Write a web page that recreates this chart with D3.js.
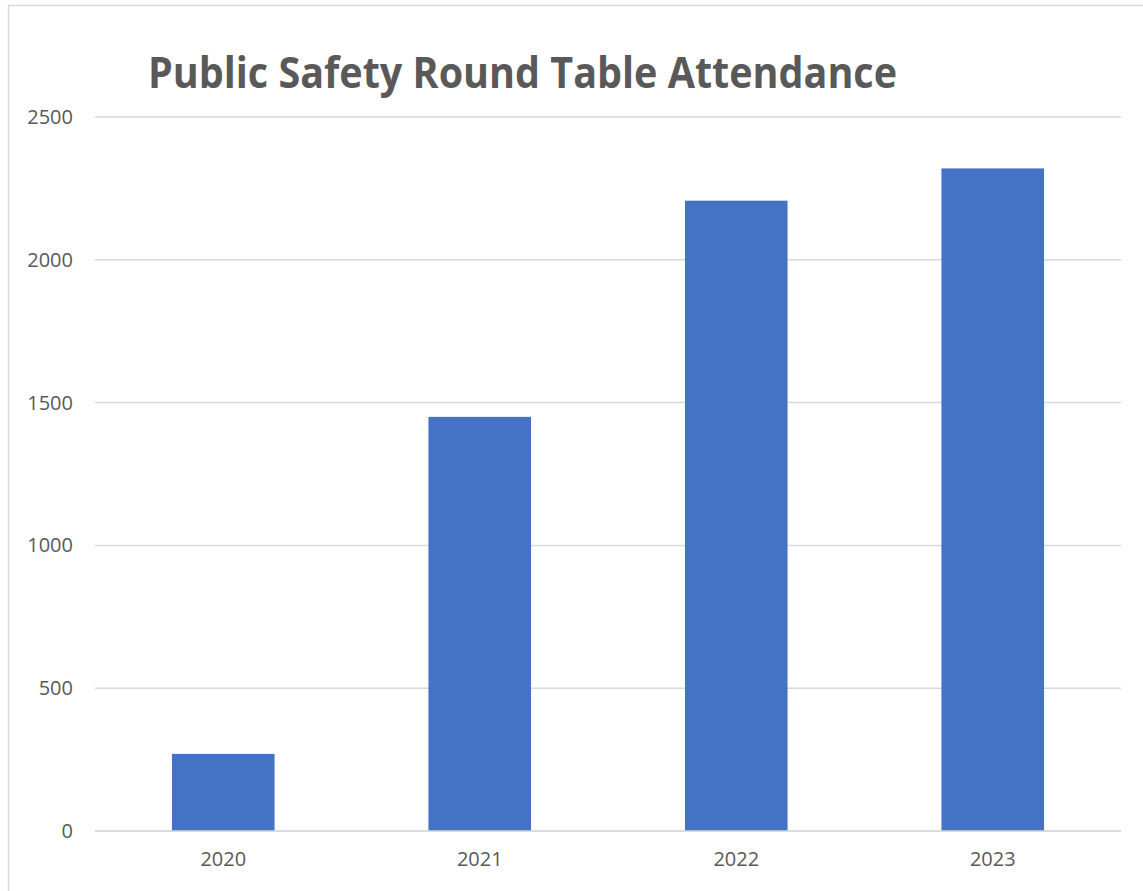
<!DOCTYPE html>
<html>
<head>
<meta charset="utf-8">
<script src="https://cdn.jsdelivr.net/npm/d3@7"></script>
<style>
  html, body { margin: 0; padding: 0; background: #fff; }
  svg { display: block; }
</style>
</head>
<body>
<script>
const categories = ["2020", "2021", "2022", "2023"];
const values = [270, 1450, 2207, 2320];
const yTicks = [0, 500, 1000, 1500, 2000, 2500];
const title = "Public Safety Round Table Attendance";

const W = 1143, H = 891;
const svg = d3.select("body").append("svg").attr("width", W).attr("height", H);

// outer chart border (partially visible)
svg.append("rect").attr("x", 8.5).attr("y", 5.5).attr("width", W + 10).attr("height", H + 10)
  .attr("fill", "#fff").attr("stroke", "#d9d9d9").attr("stroke-width", 1.5);

const plot = { left: 95, right: 1121, top: 117, bottom: 831 };

const x = d3.scaleBand().domain(categories).range([plot.left, plot.right]).paddingInner(0.6).paddingOuter(0.3);
const y = d3.scaleLinear().domain([0, 2500]).range([plot.bottom, plot.top]);

const font = "'Open Sans', 'Noto Sans', sans-serif";

// gridlines
svg.append("g").selectAll("line").data(yTicks).join("line")
  .attr("x1", plot.left).attr("x2", plot.right)
  .attr("y1", d => y(d)).attr("y2", d => y(d))
  .attr("stroke", "#d9d9d9").attr("stroke-width", 1.5);

// y axis labels
const yAxis = d3.axisLeft(y).tickValues(yTicks).tickFormat(d3.format("d")).tickSize(0).tickPadding(22);
const gy = svg.append("g").attr("transform", `translate(${plot.left},0)`).call(yAxis);
gy.select(".domain").remove();
gy.selectAll("text").attr("font-family", font).attr("font-size", 20).attr("fill", "#595959");

// bars
svg.append("g").selectAll("rect").data(values).join("rect")
  .attr("x", (d, i) => x(categories[i]))
  .attr("width", x.bandwidth())
  .attr("y", d => y(d))
  .attr("height", d => y(0) - y(d))
  .attr("fill", "#4472C4");

// baseline over bars
svg.append("line").attr("x1", plot.left).attr("x2", plot.right)
  .attr("y1", y(0)).attr("y2", y(0)).attr("stroke", "#d9d9d9").attr("stroke-width", 1.5);

// x axis labels
const xAxis = d3.axisBottom(x).tickSize(0).tickPadding(21);
const gx = svg.append("g").attr("transform", `translate(0,${plot.bottom})`).call(xAxis);
gx.select(".domain").remove();
gx.selectAll("text").attr("font-family", font).attr("font-size", 20).attr("fill", "#595959");

// title
svg.append("text").attr("x", 148).attr("y", 88)
  .attr("font-family", font).attr("font-weight", 700).attr("font-size", 43)
  .attr("fill", "#595959")
  .attr("textLength", 749).attr("lengthAdjust", "spacingAndGlyphs")
  .text(title);
</script>
</body>
</html>
